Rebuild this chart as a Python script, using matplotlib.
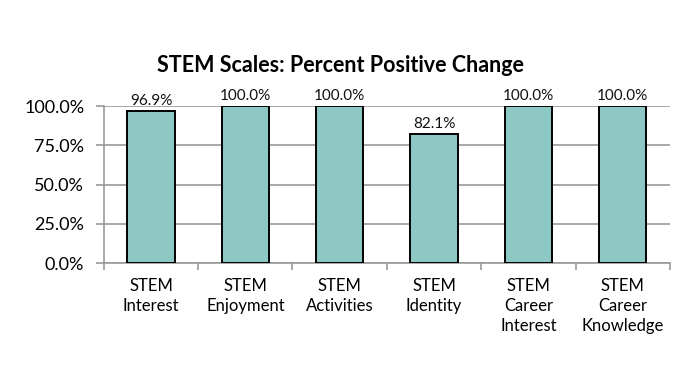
#Bar chart of STEM scales, percent positive change
#Outputs: out.png

import numpy as np
import matplotlib.pyplot as plt


#chart data
categories = ['STEM\nInterest', 'STEM\nEnjoyment', 'STEM\nActivities',
              'STEM\nIdentity', 'STEM\nCareer\nInterest', 'STEM\nCareer\nKnowledge']
values = [96.9, 100.0, 100.0, 82.1, 100.0, 100.0]
y_ticks = [0, 25, 50, 75, 100]

plt.rcParams['font.family'] = ['Lato', 'DejaVu Sans']

fig = plt.figure(figsize=(6.92, 3.76), dpi=100)
ax = fig.add_axes([0.150, 0.3005, 0.818, 0.4175])

x = np.arange(len(categories))
bars = ax.bar(x, values, width=0.5, color='#8dc8c4', edgecolor='black', linewidth=1.4, zorder=3)

# value labels above bars
for xi, v in zip(x, values):
    ax.text(xi, v + 2.0, f'{v:.1f}%', ha='center', va='bottom', fontsize=11, color='#111111')

ax.set_xlim(-0.5, len(categories) - 0.5)
ax.set_ylim(0, 100)
ax.set_yticks(y_ticks)
ax.set_yticklabels([f'{t:.1f}%' for t in y_ticks], fontsize=13)
ax.set_xticks(x)
ax.set_xticklabels(categories, fontsize=12, linespacing=1.3)
ax.set_xticks(np.arange(-0.5, len(categories), 1.0), minor=True)

ax.tick_params(axis='x', which='major', length=0, pad=11)
ax.tick_params(axis='x', which='minor', length=5, color='#999999', width=1.2)
ax.tick_params(axis='y', length=6, color='#999999', width=1.2, pad=8)

ax.grid(axis='y', color='#999999', linewidth=1.2, zorder=0)
for side in ['top', 'right']:
    ax.spines[side].set_visible(False)
for side in ['left', 'bottom']:
    ax.spines[side].set_color('#999999')
    ax.spines[side].set_linewidth(1.2)

fig.text(0.492, 0.825, 'STEM Scales: Percent Positive Change', ha='center', va='center',
         fontsize=15.5, fontweight='bold')

fig.savefig('out.png', dpi=100)
